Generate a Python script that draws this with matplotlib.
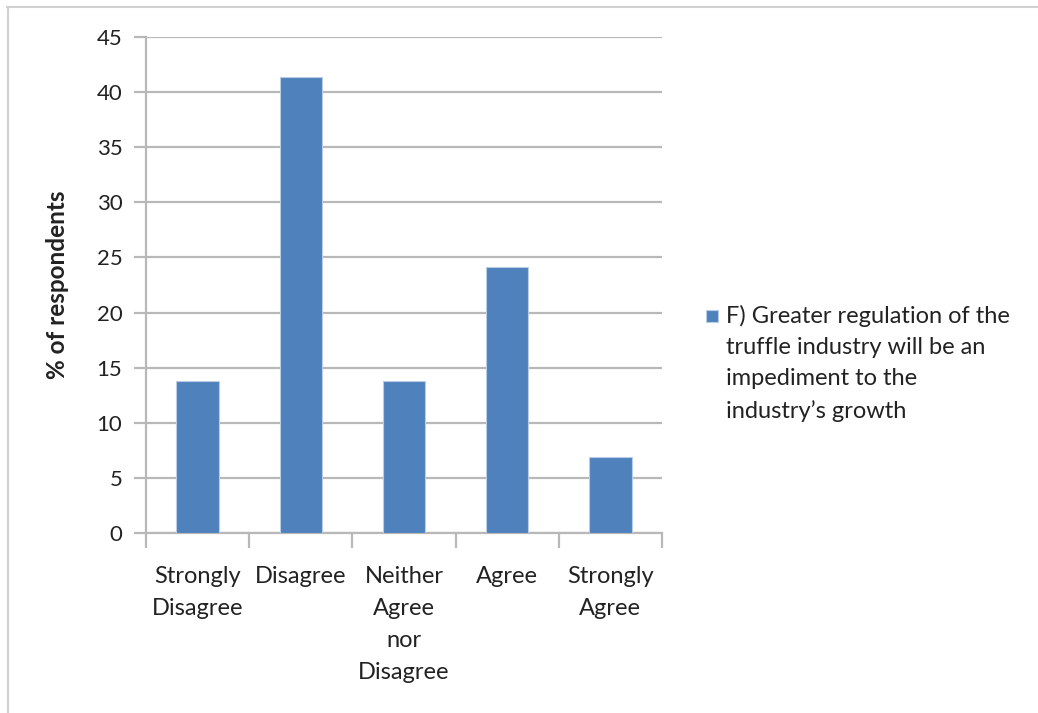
import matplotlib
matplotlib.use("Agg")
import matplotlib.pyplot as plt
from matplotlib.lines import Line2D
from matplotlib.patches import Rectangle
import numpy as np

categories = ["Strongly\nDisagree", "Disagree", "Neither\nAgree\nnor\nDisagree", "Agree", "Strongly\nAgree"]
values = [13.8, 41.4, 13.8, 24.1, 6.9]
series_label = "F) Greater regulation of the\ntruffle industry will be an\nimpediment to the\nindustry\u2019s growth"
yticks = [0, 5, 10, 15, 20, 25, 30, 35, 40, 45]

plt.rcParams['font.family'] = ['Lato', 'DejaVu Sans']

W, H = 1038, 713
fig = plt.figure(figsize=(W/100, H/100), dpi=100)
fig.patch.set_facecolor("white")

# outer frame lines (top and left)
fig.add_artist(Line2D([7/W, 1.0], [1-7/H, 1-7/H], color="#d0d0d0", lw=1.5))
fig.add_artist(Line2D([8/W, 8/W], [0, 1-7/H], color="#d0d0d0", lw=1.5))

ax = fig.add_axes([146/W, 1-533/H, (662-146)/W, (533-37)/H])
x = np.arange(len(categories))
bars = ax.bar(x, values, width=0.41, color="#4F81BD", edgecolor="#B9CDE5", linewidth=0.8, zorder=3)
ax.set_xlim(-0.5, len(categories)-0.5)
ax.set_ylim(0, 45)
ax.set_yticks(yticks)
ax.set_yticklabels([str(t) for t in yticks], fontsize=16, color="#222222")
ax.yaxis.grid(True, color="#b8b8b8", lw=1.6, zorder=0)
ax.tick_params(axis="y", length=9, width=1.6, color="#b8b8b8", pad=8)

ax.set_xticks(x)
ax.tick_params(axis="x", length=0, pad=24)
ax.set_xticks(np.arange(-0.5, len(categories)), minor=True)
ax.tick_params(axis="x", which="minor", length=11, width=1.6, color="#b8b8b8")
ax.set_xticklabels(categories, fontsize=17, color="#222222", va="top")

for s in ["top", "right"]:
    ax.spines[s].set_visible(False)
ax.spines["left"].set_color("#b8b8b8")
ax.spines["left"].set_linewidth(1.6)
ax.spines["bottom"].set_color("#b8b8b8")
ax.spines["bottom"].set_linewidth(1.6)

ax.set_ylabel("% of respondents", fontsize=17.5, fontweight="bold", color="#222222", labelpad=20)

# legend (handle aligned with first text line)
fig.add_artist(Rectangle((706/W, 1-322/H), 12/W, 12/H, facecolor="#4F81BD",
                         edgecolor="#B9CDE5", lw=0.8, transform=fig.transFigure))
fig.text(726/W, 1-305/H, series_label, fontsize=17, color="#222222", va="top", ha="left",
         linespacing=1.6)

fig.canvas.draw()
for t in ax.get_xticklabels():
    t.set_linespacing(1.64)

fig.savefig("out.png", dpi=100, facecolor="white")
